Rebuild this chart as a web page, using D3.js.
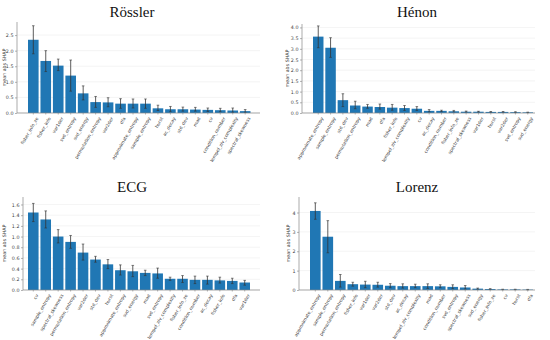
<!DOCTYPE html>
<html>
<head>
  <meta charset="utf-8">
  <title>mean abs SHAP per feature</title>
  <script src="https://cdn.jsdelivr.net/npm/d3@7"></script>
  <style>
    body{margin:0;background:#fff;}
    svg text{font-family:"DejaVu Sans",sans-serif;}
  </style>
</head>
<body>
  <script>
    // feature names and mean |SHAP| with error bar ends, per system
    var rosslerFeatures=["fisher_info_ze","fisher_info","var1der","svd_entropy","svd_energy","permutation_entropy","var2der","dfa","approximate_entropy","sample_entropy","hurst","ac_decay","std_dev","mad","cv","condition_number","lempel_ziv_complexity","spectral_skewness"];
    var rosslerMean=[2.35,1.67,1.52,1.2,0.63,0.35,0.34,0.3,0.3,0.3,0.15,0.12,0.12,0.11,0.1,0.09,0.08,0.06];
    var rosslerLow=[1.9,1.33,1.36,0.7,0.42,0.18,0.2,0.15,0.16,0.15,0.08,0.04,0.06,0.06,0.05,0.04,0.02,0.02];
    var rosslerHigh=[2.8,2.0,1.73,1.7,0.87,0.53,0.49,0.46,0.45,0.45,0.25,0.21,0.19,0.18,0.16,0.15,0.16,0.11];

    var henonFeatures=["approximate_entropy","sample_entropy","std_dev","permutation_entropy","mad","dfa","fisher_info","lempel_ziv_complexity","cv","ac_decay","condition_number","fisher_info_ze","spectral_skewness","var1der","hurst","var2der","svd_entropy","svd_energy"];
    var henonMean=[3.57,3.05,0.6,0.35,0.3,0.28,0.25,0.23,0.2,0.1,0.1,0.08,0.06,0.06,0.05,0.05,0.04,0.03];
    var henonLow=[3.05,2.6,0.3,0.2,0.22,0.18,0.13,0.12,0.12,0.05,0.06,0.05,0.04,0.04,0.03,0.03,0.02,0.02];
    var henonHigh=[4.07,3.52,0.9,0.55,0.4,0.42,0.4,0.35,0.3,0.16,0.13,0.12,0.09,0.08,0.07,0.07,0.06,0.04];

    var ecgFeatures=["cv","sample_entropy","spectral_skewness","permutation_entropy","var2der","std_dev","hurst","approximate_entropy","svd_energy","mad","svd_entropy","lempel_ziv_complexity","fisher_info_ze","condition_number","ac_decay","fisher_info","dfa","var1der"];
    var ecgMean=[1.45,1.32,1.0,0.9,0.7,0.57,0.48,0.37,0.35,0.32,0.31,0.21,0.21,0.19,0.19,0.18,0.17,0.14];
    var ecgLow=[1.28,1.16,0.88,0.78,0.56,0.52,0.4,0.28,0.25,0.27,0.22,0.18,0.14,0.12,0.11,0.13,0.12,0.09];
    var ecgHigh=[1.62,1.48,1.13,1.02,0.86,0.63,0.57,0.47,0.46,0.37,0.41,0.24,0.27,0.26,0.26,0.24,0.22,0.18];

    var lorenzFeatures=["approximate_entropy","sample_entropy","permutation_entropy","fisher_info","var1der","var2der","std_dev","ac_decay","lempel_ziv_complexity","mad","condition_number","svd_entropy","spectral_skewness","svd_energy","fisher_info_ze","cv","hurst","dfa"];
    var lorenzMean=[4.08,2.75,0.47,0.3,0.28,0.27,0.22,0.2,0.2,0.2,0.19,0.16,0.13,0.07,0.05,0.03,0.03,0.02];
    var lorenzLow=[3.65,1.92,0.15,0.2,0.12,0.15,0.12,0.1,0.12,0.08,0.12,0.07,0.05,0.04,0.03,0.02,0.02,0.01];
    var lorenzHigh=[4.5,3.58,0.8,0.4,0.45,0.4,0.33,0.32,0.3,0.32,0.27,0.27,0.23,0.1,0.07,0.04,0.04,0.03];

    var rosslerTicks=[0,0.5,1,1.5,2,2.5];
    var henonTicks=[0,0.5,1,1.5,2,2.5,3,3.5,4];
    var ecgTicks=[0,0.2,0.4,0.6,0.8,1.0,1.2,1.4,1.6];
    var lorenzTicks=[0,1,2,3,4];

    var w=550,h=340;
    var svg=d3.select("body").append("svg").attr("width",w).attr("height",h);

    var panels=[
      {title:"Rössler",names:rosslerFeatures,mean:rosslerMean,lo:rosslerLow,hi:rosslerHigh,ticks:rosslerTicks,fmt:".1f",
       ymax:2.92,left:17,right:260,top:22,bottom:113,a:28,b:250.5,cx:132,ty:17,ylx:6},
      {title:"Hénon",names:henonFeatures,mean:henonMean,lo:henonLow,hi:henonHigh,ticks:henonTicks,fmt:".1f",
       ymax:4.16,left:302,right:535,top:24,bottom:113,a:313,b:533,cx:417,ty:17,ylx:289},
      {title:"ECG",names:ecgFeatures,mean:ecgMean,lo:ecgLow,hi:ecgHigh,ticks:ecgTicks,fmt:".1f",
       ymax:1.74,left:23,right:260,top:197,bottom:290,a:28,b:250,cx:132,ty:192,ylx:6},
      {title:"Lorenz",names:lorenzFeatures,mean:lorenzMean,lo:lorenzLow,hi:lorenzHigh,ticks:lorenzTicks,fmt:"d",
       ymax:4.8,left:299,right:535,top:197,bottom:290,a:310,b:533,cx:417,ty:192,ylx:290}
    ];

    panels.forEach(function(p){
      var g=svg.append("g");
      var x=d3.scaleBand().domain(p.names).range([p.a,p.b]).paddingInner(0.15).paddingOuter(0);
      var y=d3.scaleLinear().domain([0,p.ymax]).range([p.bottom,p.top]);

      // faint grid
      g.selectAll("line.grid").data(p.ticks).enter().append("line")
        .attr("class","grid")
        .attr("x1",p.left).attr("x2",p.right)
        .attr("y1",function(d){return y(d);}).attr("y2",function(d){return y(d);})
        .attr("stroke","#ececec").attr("stroke-width",0.6);

      g.selectAll("rect").data(p.mean).enter().append("rect")
        .attr("x",function(d,i){return x(p.names[i]);})
        .attr("y",function(d){return y(d);})
        .attr("width",x.bandwidth())
        .attr("height",function(d){return p.bottom-y(d);})
        .attr("fill","#2077b4");

      // error bars
      var eb=g.selectAll("g.err").data(p.mean).enter().append("g").attr("class","err");
      eb.append("line")
        .attr("x1",function(d,i){return x(p.names[i])+x.bandwidth()/2;})
        .attr("x2",function(d,i){return x(p.names[i])+x.bandwidth()/2;})
        .attr("y1",function(d,i){return y(p.lo[i]);})
        .attr("y2",function(d,i){return y(p.hi[i]);})
        .attr("stroke","#333").attr("stroke-width",0.8);
      [p.lo,p.hi].forEach(function(arr){
        eb.append("line")
          .attr("x1",function(d,i){return x(p.names[i])+x.bandwidth()/2-1.3;})
          .attr("x2",function(d,i){return x(p.names[i])+x.bandwidth()/2+1.3;})
          .attr("y1",function(d,i){return y(arr[i]);})
          .attr("y2",function(d,i){return y(arr[i]);})
          .attr("stroke","#333").attr("stroke-width",0.6);
      });

      // y axis
      var ya=g.append("g").attr("transform","translate("+p.left+",0)")
        .call(d3.axisLeft(y).tickValues(p.ticks).tickFormat(d3.format(p.fmt)).tickSize(2).tickPadding(1.5));
      ya.select(".domain").remove();
      ya.selectAll("text").attr("font-size",4.8).attr("fill","#444");
      ya.selectAll(".tick line").attr("stroke","#666").attr("stroke-width",0.5);
      g.append("line").attr("x1",p.left).attr("x2",p.left).attr("y1",p.top).attr("y2",p.bottom)
        .attr("stroke","#888").attr("stroke-width",0.7);

      // x axis
      var xa=g.append("g").attr("transform","translate(0,"+p.bottom+")")
        .call(d3.axisBottom(x).tickSize(1.5).tickSizeOuter(0));
      xa.select(".domain").remove();
      xa.selectAll(".tick line").attr("stroke","#666").attr("stroke-width",0.5);
      xa.selectAll("text")
        .attr("font-size",4.5).attr("fill","#444")
        .attr("text-anchor","end")
        .attr("dy",0)
        .attr("transform","translate(1.5,3) rotate(-60)");
      g.append("line").attr("x1",p.left).attr("x2",p.right).attr("y1",p.bottom).attr("y2",p.bottom)
        .attr("stroke","#888").attr("stroke-width",0.7);

      g.append("text")
        .attr("transform","translate("+p.ylx+","+((p.top+p.bottom)/2)+") rotate(-90)")
        .attr("text-anchor","middle")
        .attr("font-size",4.8).attr("fill","#444")
        .text("mean abs SHAP");

      g.append("text")
        .attr("x",p.cx).attr("y",p.ty)
        .attr("text-anchor","middle")
        .style("font-family","'Liberation Serif',serif")
        .attr("font-size",15).attr("fill","#111")
        .text(p.title);
    });
  </script>
</body>
</html>
